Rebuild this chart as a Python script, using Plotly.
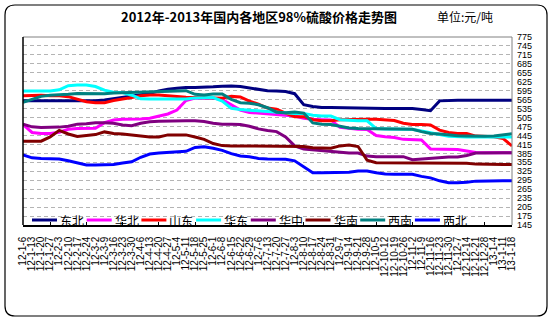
import plotly.graph_objects as go

dates = ["12-1-6","12-1-13","12-1-20","12-1-27","12-2-3","12-2-10","12-2-17","12-2-24",
         "12-3-2","12-3-9","12-3-16","12-3-23","12-3-30","12-4-6","12-4-13","12-4-20","12-4-27",
         "12-5-4","12-5-11","12-5-18","12-5-25","12-6-1","12-6-8","12-6-15","12-6-22","12-6-29",
         "12-7-6","12-7-13","12-7-20","12-7-27","12-8-3","12-8-10","12-8-17","12-8-24","12-8-31",
         "12-9-7","12-9-14","12-9-21","12-9-28","12-10-5","12-10-12","12-10-19","12-10-26",
         "12-11-2","12-11-9","12-11-16","12-11-23","12-11-30","12-12-7","12-12-14","12-12-21",
         "12-12-28","13-1-4","13-1-11","13-1-18"]

dongbei = [561,561,561,561,561,561,561,561,561,564,568,573,576,580,586,594,600,603,606,606,
           606,608,610,611,609,604,598,595,594,592,585,548,542,539,539,538,537,536,536,535,
           535,535,535,535,532,528,561,563,563,563,563,563,563,563,563]
huabei = [482,455,452,452,456,466,468,469,469,488,497,499,499,500,503,510,517,530,562,570,
          570,570,566,549,530,522,520,517,516,514,510,503,499,498,497,472,468,466,465,445,
          441,438,432,430,430,400,399,398,398,393,388,387,387,387,387]
shandong = [578,580,580,578,578,575,567,558,555,555,562,566,572,578,581,581,578,576,573,572,
            572,571,570,576,574,560,550,537,533,520,508,508,498,494,494,498,499,499,499,499,
            497,495,486,482,482,480,463,455,452,452,443,441,441,435,410]
huadong = [594,594,594,594,598,612,614,614,609,597,590,589,580,568,567,567,566,566,567,571,
           572,572,560,536,532,530,528,524,522,521,519,519,513,510,510,498,495,494,494,468,
           467,466,466,466,460,455,448,442,440,440,441,440,440,440,440]
huazhong = [483,474,472,472,473,476,483,484,488,488,486,480,478,486,491,493,494,494,494,494,
            492,486,483,483,482,476,467,462,458,440,410,400,397,393,390,389,386,386,376,374,
            374,374,374,364,366,370,371,373,373,378,386,387,387,387,387]
huanan = [426,426,426,440,462,450,442,445,448,457,452,450,446,443,440,440,447,447,447,440,
          432,418,411,410,410,410,410,410,410,410,410,408,404,402,402,410,413,408,362,354,
          354,354,354,354,354,354,354,354,354,352,349,348,348,348,348]
xinan = [556,565,576,580,581,583,586,585,584,585,587,588,589,590,590,591,593,595,595,583,
         581,584,584,566,555,553,548,538,523,521,524,520,487,483,482,476,470,468,468,468,
         468,468,468,466,458,452,450,446,444,443,442,442,443,446,451]
xibei = [380,370,368,368,366,360,352,346,346,346,348,353,357,372,383,386,388,388,392,405,
         407,402,395,384,376,374,368,366,366,365,360,340,320,320,320,320,322,326,326,320,
         316,315,315,315,308,303,293,287,287,288,292,293,293,293,293]

names = ["东北", "华北", "山东", "华东", "华中", "华南", "西南", "西北"]
series = [dongbei, huabei, shandong, huadong, huazhong, huanan, xinan, xibei]
colors = ["#000080", "#FF00FF", "#FF0000", "#00FFFF", "#800080", "#800000", "#008080", "#0000FF"]

y_ticks = list(range(145, 776, 30))

W, H = 554, 323
L, R, T, B = 23, 512, 37, 225


def px(x):
    return (x - L) / (R - L)


def py(y):
    return (B - y) / (B - T)


fig = go.Figure()
xs = list(range(len(dates)))
for name, vals, c in zip(names, series, colors):
    fig.add_trace(go.Scatter(x=xs, y=vals, mode="lines", name=name,
                             line=dict(color=c, width=3), showlegend=False))

shapes = []
annotations = []

# plot-area border: top and right grey, left black
shapes.append(dict(type="line", xref="paper", yref="paper", x0=0, x1=1, y0=1, y1=1,
                   line=dict(color="#808080", width=1)))
shapes.append(dict(type="line", xref="paper", yref="paper", x0=1, x1=1, y0=0, y1=1,
                   line=dict(color="#808080", width=1)))
shapes.append(dict(type="line", xref="paper", yref="paper", x0=0, x1=0, y0=0, y1=1,
                   line=dict(color="black", width=1.5)))

# outer rounded frame
x0f, y0f, x1f, y1f, r = 5, 5, 547, 316, 10
path = (f"M {px(x0f + r)},{py(y0f)} L {px(x1f - r)},{py(y0f)} "
        f"Q {px(x1f)},{py(y0f)} {px(x1f)},{py(y0f + r)} L {px(x1f)},{py(y1f - r)} "
        f"Q {px(x1f)},{py(y1f)} {px(x1f - r)},{py(y1f)} L {px(x0f + r)},{py(y1f)} "
        f"Q {px(x0f)},{py(y1f)} {px(x0f)},{py(y1f - r)} L {px(x0f)},{py(y0f + r)} "
        f"Q {px(x0f)},{py(y0f)} {px(x0f + r)},{py(y0f)} Z")
shapes.append(dict(type="path", xref="paper", yref="paper", path=path,
                   line=dict(color="black", width=1.2)))

# manual legend (inside plot, bottom)
leg_x0, leg_step, leg_y, sample_len = 32, 54.7, 220, 25
for k, (name, c) in enumerate(zip(names, colors)):
    xs0 = leg_x0 + k * leg_step
    shapes.append(dict(type="line", xref="paper", yref="paper",
                       x0=px(xs0), x1=px(xs0 + sample_len), y0=py(leg_y), y1=py(leg_y),
                       line=dict(color=c, width=3)))
    annotations.append(dict(text=name, xref="paper", yref="paper", x=px(xs0 + sample_len + 1),
                            y=py(leg_y), xanchor="left", yanchor="middle", showarrow=False,
                            font=dict(family="Noto Sans CJK SC", size=12, color="black")))

# titles
annotations.append(dict(text="<b>2012年-2013年国内各地区98%硫酸价格走势图</b>", xref="paper",
                        yref="paper", x=px(259), y=py(17), xanchor="center", yanchor="middle",
                        showarrow=False,
                        font=dict(family="Noto Sans CJK SC", size=13, color="black")))
annotations.append(dict(text="单位:元/吨", xref="paper", yref="paper", x=px(465), y=py(17),
                        xanchor="center", yanchor="middle", showarrow=False,
                        font=dict(family="Noto Sans CJK SC", size=12, color="black")))

fig.update_layout(
    width=W, height=H,
    margin=dict(l=L, r=W - R, t=T, b=H - B, pad=0),
    plot_bgcolor="white", paper_bgcolor="white",
    showlegend=False,
    shapes=shapes, annotations=annotations,
    xaxis=dict(range=[0, len(dates) - 1], tickmode="array", tickvals=xs, ticktext=dates,
               tickangle=-90, tickfont=dict(family="Liberation Sans", size=10, color="black"),
               ticks="", showgrid=False, zeroline=False, showline=True, linecolor="black",
               linewidth=1.5, ticklabelstandoff=6,
               minor=dict(tick0=3, dtick=4, ticks="inside", ticklen=3, tickcolor="black",
                          showgrid=False)),
    yaxis=dict(range=[145, 775], side="right", tickmode="array", tickvals=y_ticks,
               tickfont=dict(family="Liberation Sans", size=9, color="black"),
               ticks="", showgrid=True, gridcolor="#b4b4b4", griddash="4px,3px", gridwidth=1,
               zeroline=False, showline=False, ticklabelstandoff=4),
)

fig.write_html("out.html")
